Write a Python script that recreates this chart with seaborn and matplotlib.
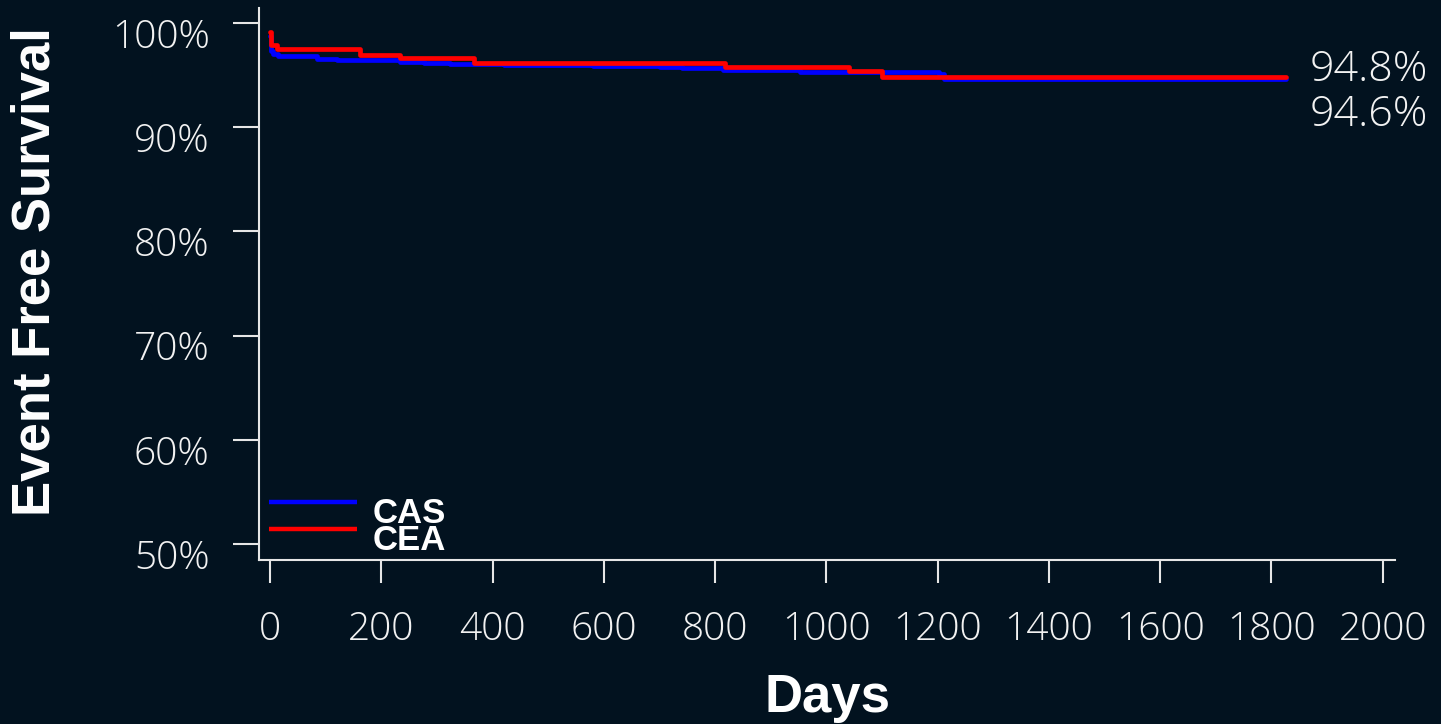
import matplotlib
matplotlib.use("Agg")
import matplotlib.pyplot as plt
import matplotlib.transforms as mtransforms
from matplotlib import font_manager
from matplotlib.font_manager import FontProperties
import numpy as np
import pandas as pd
import seaborn as sns

# Kaplan-Meier step data (day, event free survival %)
cas_days = [0, 2, 6, 14, 84, 120, 234, 276, 324, 420, 581, 701, 740, 815, 953, 1202, 1212, 1826]
cas_surv = [98.8, 97.3, 97.0, 96.85, 96.55, 96.45, 96.3, 96.15, 96.05, 95.95, 95.85, 95.75,
            95.65, 95.5, 95.3, 95.15, 94.6, 94.6]
cea_days = [0, 1, 12, 162, 234, 366, 818, 1040, 1100, 1826]
cea_surv = [99.1, 97.85, 97.5, 96.95, 96.6, 96.2, 95.8, 95.35, 94.8, 94.8]

groups = ["CAS", "CEA"]
group_colors = ["#0000FF", "#FF0000"]

x_ticks = [0, 200, 400, 600, 800, 1000, 1200, 1400, 1600, 1800, 2000]
y_ticks = [50, 60, 70, 80, 90, 100]

BG = "#02121F"
FG = "#E6E6E6"
TXT = "#F2F2F2"


def light_font(size):
    """Pick a light-weight, normal-width sans face if one is installed."""
    wanted = ["Open Sans", "Lato", "Roboto", "Noto Sans", "Inter"]
    for fam in wanted:
        for f in font_manager.fontManager.ttflist:
            w = f.weight
            if isinstance(w, str):
                w = {"thin": 100, "extra light": 200, "light": 300}.get(w.lower(), 400)
            name = f.name.lower()
            if ("condensed" in name or "narrow" in name or "semi" in name
                    or "condensed" in f.fname.lower()):
                continue
            if (f.name.startswith(fam) and 250 <= w <= 300 and f.style == "normal"
                    and f.stretch == "normal"):
                return FontProperties(fname=f.fname, size=size)
    return FontProperties(family="DejaVu Sans", size=size)


sns.set_theme(style="dark")
plt.rcParams.update({
    "figure.facecolor": BG,
    "axes.facecolor": BG,
    "savefig.facecolor": BG,
    "axes.edgecolor": FG,
    "font.family": ["Liberation Sans", "DejaVu Sans"],
})

frames = []
for g, d, s in [("CAS", cas_days, cas_surv), ("CEA", cea_days, cea_surv)]:
    frames.append(pd.DataFrame({"day": d, "surv": s, "group": g}))
df = pd.concat(frames, ignore_index=True)

fig = plt.figure(figsize=(14.41, 7.24), dpi=100)
ax = fig.add_axes([259 / 1441, 1 - 560 / 724, (1395 - 259) / 1441, (560 - 8) / 724])

sns.lineplot(data=df, x="day", y="surv", hue="group", hue_order=groups,
             palette=dict(zip(groups, group_colors)), estimator=None, sort=False,
             drawstyle="steps-post", linewidth=3.4, legend=False, ax=ax,
             solid_capstyle="round", solid_joinstyle="round")

ax.set_xlim(-19.8, 2022)
ax.set_ylim(48.46, 101.44)

ax.set_xticks(x_ticks)
ax.set_yticks(y_ticks)
tick_fp = light_font(28)
ax.set_xticklabels([str(v) for v in x_ticks], fontproperties=tick_fp, color=TXT)
ax.set_yticklabels([f"{v}%" for v in y_ticks], fontproperties=tick_fp, color=TXT)
ax.tick_params(axis="x", length=16.5, width=1.5, color=FG, pad=20, bottom=True)
ax.tick_params(axis="y", length=18.5, width=1.5, color=FG, pad=17, left=True)

# y tick labels sit slightly below their ticks
shift_down = mtransforms.ScaledTranslation(0, -10 / 100, fig.dpi_scale_trans)
for lab in ax.get_yticklabels():
    lab.set_transform(lab.get_transform() + shift_down)

ax.grid(False)
for side in ["top", "right"]:
    ax.spines[side].set_visible(False)
for side in ["left", "bottom"]:
    ax.spines[side].set_color(FG)
    ax.spines[side].set_linewidth(1.5)

ax.set_xlabel("Days", fontsize=38, fontweight="bold", color="white")
ax.set_ylabel("Event Free Survival", fontsize=38, fontweight="bold", color="white")
ax.xaxis.label.set_va("center")
ax.yaxis.label.set_va("center")
ax.xaxis.set_label_coords(0.5, (560 - 698) / 552)
ax.yaxis.set_label_coords((36 - 259) / 1136, (560 - 271.5) / 552)

# Legend drawn in axes coordinates
for i, (g, c) in enumerate(zip(groups, group_colors)):
    yl = (560 - (501.7 + i * 27.3)) / 552
    ax.plot([(269 - 259) / 1136, (357 - 259) / 1136], [yl, yl], color=c, lw=3.2,
            transform=ax.transAxes, solid_capstyle="butt")
    ax.text((373 - 259) / 1136, yl - 12 / 552, g, transform=ax.transAxes,
            fontsize=25, fontweight="bold", color="white", va="center", ha="left")

# Final survival values at end of follow-up
end_labels = [(cea_days[-1], cea_surv[-1], 95.55), (cas_days[-1], cas_surv[-1], 91.2)]
for xd, val, ypos in end_labels:
    ax.text(xd + 43, ypos, f"{val:.1f}%", fontproperties=light_font(31), color=TXT,
            va="center", ha="left", clip_on=False)

fig.savefig("out.png", dpi=100, facecolor=BG)
